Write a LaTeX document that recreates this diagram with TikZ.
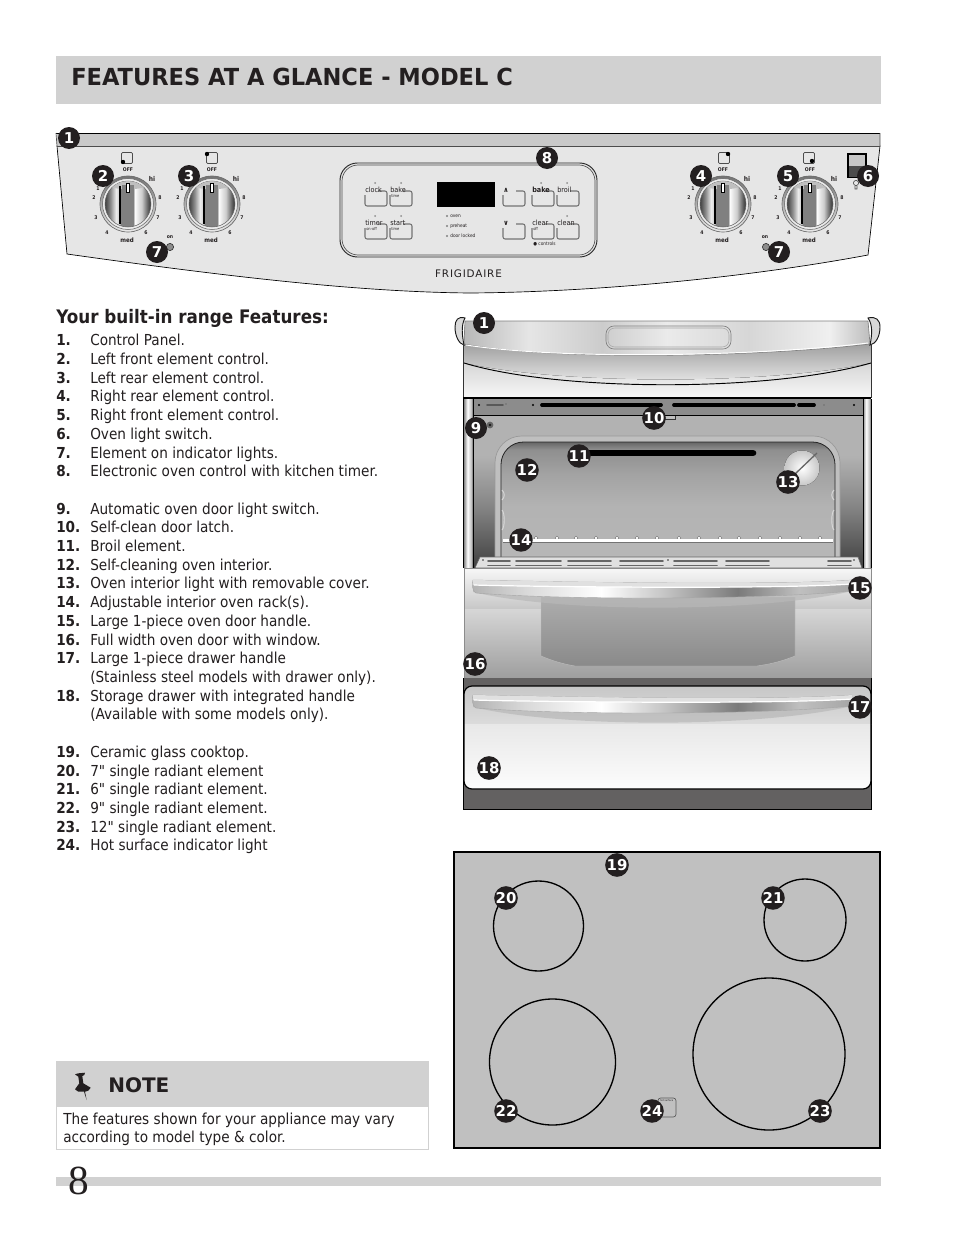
\documentclass[tikz,border=0pt]{standalone}
\usepackage{fontspec}
\setmainfont[FakeStretch=0.9]{DejaVu Sans}
\newfontfamily\plainf{DejaVu Sans}
\newfontfamily\titlef[FakeStretch=0.96]{DejaVu Sans}
\newfontfamily\quotef[FakeStretch=0.9]{DejaVu Sans}
\newfontfamily\pagef{Liberation Serif}
\newcommand{\inch}{{\quotef"}}
\definecolor{band}{HTML}{D1D1D1}
\definecolor{ink}{HTML}{231F20}
\definecolor{panelc}{HTML}{E6E6E6}
\definecolor{stripc}{HTML}{C9C9C9}
\definecolor{drawerc}{HTML}{636161}
\definecolor{cookc}{HTML}{C0C0C0}
\pgfdeclarehorizontalshading{knobsh}{100bp}{color(0bp)=(black!75);color(25bp)=(black!75);color(31bp)=(black!45);color(37bp)=(black!8);color(41bp)=(black!20);color(42bp)=(black!50);color(56bp)=(black!50);color(57bp)=(white);color(65bp)=(black!20);color(72bp)=(black!65);color(75bp)=(black!80);color(100bp)=(black!80)}
\pgfdeclarehorizontalshading{handlesh}{100bp}{color(0bp)=(black!30);color(25bp)=(black!30);color(32bp)=(black!15);color(42bp)=(white);color(50bp)=(black!22);color(60bp)=(black!52);color(68bp)=(black!25);color(75bp)=(black!35);color(100bp)=(black!35)}
\pgfdeclarehorizontalshading{trimsh}{100bp}{color(0bp)=(black!28);color(25bp)=(black!28);color(33bp)=(black!10);color(42bp)=(black!20);color(50bp)=(black!8);color(60bp)=(black!16);color(70bp)=(black!6);color(75bp)=(black!26);color(100bp)=(black!26)}
\pgfdeclarehorizontalshading{columnsh}{100bp}{color(0bp)=(black!45);color(25bp)=(black!45);color(45bp)=(white);color(65bp)=(black!25);color(75bp)=(black!65);color(100bp)=(black!65)}
\pgfdeclareverticalshading{wallsh}{100bp}{color(0bp)=(black!75);color(25bp)=(black!75);color(45bp)=(black!48);color(62bp)=(black!30);color(75bp)=(black!30);color(100bp)=(black!30)}
\pgfdeclareverticalshading{cavsh}{100bp}{color(0bp)=(black!28);color(25bp)=(black!28);color(50bp)=(black!30);color(62bp)=(black!36);color(72bp)=(black!44);color(75bp)=(black!60);color(100bp)=(black!60)}
\tikzset{
  badge/.style={circle,fill=ink,draw=none,text=white,inner sep=0pt,minimum size=16.5pt,font=\plainf\bfseries\fontsize{11.2pt}{11pt}\selectfont},
  lbl/.style={anchor=base west,inner sep=0pt,text=ink,font=\fontsize{11.35pt}{13pt}\selectfont},
  tiny/.style={inner sep=0pt,text=ink,font=\fontsize{3.8pt}{4pt}\selectfont\bfseries},
  btnl/.style={inner sep=0pt,anchor=west,text=ink,font=\fontsize{5.4pt}{5.4pt}\selectfont},
  btnline/.style={draw=black!55,line width=0.8pt,rounded corners=1.6pt},
  hole/.style={line width=1.2pt,black!60,line cap=round},
  burner/.style={draw=black,line width=1pt}
}
\newcommand{\badgeat}[4]{\node[badge] (#1) at (#2,#3) {#4};}
\newcommand{\itm}[3]{\node[lbl] (num#2) at (56,#1) {\textbf{#2}}; \node[lbl] (txt#2) at (90,#1) {#3};}
\newcommand{\knobat}[3]{%
 \begin{scope}[shift={(#2,#3)}]
  \fill[top color=black!55,bottom color=black!8,draw=black!55,line width=0.5pt] (0,0) circle (28);
  \fill[black!8] (0,0) circle (25.5);
  \draw[black!60,line width=0.4pt] (0,0) circle (25.5);
  \path[shading=knobsh,draw=black!60,line width=0.4pt] (0,0) circle (23);
  \fill[black!25] (-16,-16.5) arc[start angle=226,end angle=314,radius=23] -- (16,-16.5) to[bend left=12] cycle;
  \fill[black] (-8.6,-18) rectangle (-7.3,20);
  \fill[black!50] (-6,-19) rectangle (6,21.5);
  \draw[fill=white,draw=black,line width=0.6pt] (-1.7,-21) rectangle (1.7,-12);
  \node[tiny] (#1off) at (0,-34) {OFF};
  \node[tiny,font=\fontsize{5pt}{5pt}\selectfont\bfseries] (#1hi) at (24,-25) {hi};
  \node[tiny] (#1e) at (32,-6) {8};
  \node[tiny] (#1s) at (30,14) {7};
  \node[tiny] (#1f) at (18,29) {6};
  \node[tiny,font=\fontsize{4.6pt}{5pt}\selectfont\bfseries] (#1m) at (-1,36) {med};
  \node[tiny] (#1g) at (-21,29) {4};
  \node[tiny] (#1t) at (-32,14) {3};
  \node[tiny] (#1u) at (-34,-6) {2};
  \node[tiny] (#1l) at (-30,-15) {1};
 \end{scope}}
\newcommand{\sqind}[4]{%
  \draw[black!70,line width=0.5pt,rounded corners=0.8pt] (#1-5.5,#2-5.5) rectangle (#1+5.5,#2+5.5);
  \fill[black] (#1+#3,#2+#4) circle (2.2);}
\newcommand{\btn}[5]{% name x y label sub
  \draw[btnline] (#2+13,#3+1) -- (#2+22,#3+1) -- (#2+22,#3+16) -- (#2,#3+16) -- (#2,#3+5);
  \node[btnl] (#1) at (#2,#3) {#4};
  \node[btnl,font=\fontsize{3pt}{3pt}\selectfont] (#1s) at (#2+1,#3+6.5) {#5};}
\newcommand{\handle}[2]{% top y, right x
  \fill[black!28,opacity=.7] (473,#1+12) .. controls (560,#1+33) and (760,#1+33) .. (#2,#1+11) -- (#2,#1+5) -- (473,#1+5) -- cycle;
  \path[shading=handlesh,draw=black!35,line width=0.3pt] (473,#1) .. controls (480,#1) and (760,#1+7) .. (#2,#1) -- (#2,#1+11) .. controls (760,#1+20) and (560,#1+20) .. (476,#1+13) .. controls (472,#1+12) and (472,#1+3) .. (473,#1) -- cycle;
  \fill[black!12] (473,#1) .. controls (480,#1) and (760,#1+7) .. (#2,#1) -- (#2,#1+4) .. controls (760,#1+10) and (500,#1+6) .. (473,#1+5) -- cycle;
  \draw[white,line width=0.9pt] (474,#1+5) .. controls (500,#1+6) and (760,#1+10) .. (#2,#1+4);
}
\begin{document}
\begin{tikzpicture}[x=0.75pt,y=-0.75pt]
\useasboundingbox (0,0) rectangle (954,1235);
\fill[white] (0,0) rectangle (954,1235);
% title
\fill[band] (56,56) rectangle (881,104);
\node[anchor=base west,inner sep=0pt,text=ink,font=\titlef\bfseries\fontsize{17.6pt}{20pt}\selectfont] (title) at (71,85) {FEATURES AT A GLANCE - MODEL C};
% control panel
\path[fill=panelc,draw=black,line width=0.5pt] (57,146) -- (67,254) .. controls (230,277) and (360,292) .. (470,293) .. controls (600,292) and (750,277) .. (868,255) -- (880,146) -- cycle;
\fill[stripc] (57,133) rectangle (880,146);
\draw[black,line width=0.6pt] (56,133) -- (880,133);
\draw[black!70,line width=0.5pt] (57,146) -- (880,146);
\draw[black!70,line width=0.5pt] (56,133) -- (57,146) (880,133) -- (880,146);
\knobat{ka}{128}{204}\sqind{127}{158}{-4}{4}
\knobat{kb}{212}{204}\sqind{212}{158}{-5}{-4}
\knobat{kc}{723}{204}\sqind{724}{158}{4}{-4}
\knobat{kd}{810}{204}\sqind{809}{158}{3}{3}
% on lights
\fill[black!45,draw=black!80,line width=0.5pt] (170,247) circle (3.6);
\fill[black!45,draw=black!80,line width=0.5pt] (766,247) circle (3.6);
\node[tiny] (onl) at (170,237) {on};
\node[tiny] (onr) at (765,237) {on};
% oven light switch
\draw[black,line width=1pt,fill=black!22] (848,154) rectangle (866,177);
\fill[black!70] (848.5,166) rectangle (865.5,176.5);
\draw[black!70,line width=0.5pt] (856,183) circle (2.6) (855,186) -- (855,189) -- (857,189) -- (857,186);
% control board
\draw[black!85,line width=0.7pt,rounded corners=13pt] (340,163) rectangle (597,257);
\draw[black!70,line width=0.5pt,rounded corners=12pt] (342,165) rectangle (595,255);
\fill[black] (437,182) rectangle (495,207);
\btn{clock}{365}{190}{clock}{}
\btn{bakea}{390}{190}{bake}{time}
\btn{timer}{365}{223}{timer}{on-off}
\btn{start}{390}{223}{start}{time}
\btn{up}{503}{190}{\textbf{∧}}{}
\btn{bakeb}{532}{190}{\textbf{bake}}{}
\btn{broil}{557}{190}{broil}{}
\btn{down}{503}{223}{\textbf{∨}}{}
\btn{clear}{532}{223}{clear}{off}
\btn{clean}{557}{223}{clean}{}
\foreach \px/\py in {375/183,401/183,375/216,401/216,541/183,567/183,567/216}{\fill[black!45] (\px,\py) circle (1);}
\foreach \py in {216,226,236}{\fill[black!50] (447,\py) circle (1.1);}
\node[inner sep=0pt,anchor=west,text=ink,font=\fontsize{3.6pt}{4pt}\selectfont] (oven) at (450,216) {oven};
\node[inner sep=0pt,anchor=west,text=ink,font=\fontsize{3.6pt}{4pt}\selectfont] (preheat) at (450,226) {preheat};
\node[inner sep=0pt,anchor=west,text=ink,font=\fontsize{3.6pt}{4pt}\selectfont] (locked) at (450,236) {door locked};
\node[inner sep=0pt,anchor=west,text=ink,font=\fontsize{3.6pt}{4pt}\selectfont] (ctrl) at (533,244) {● controls};
\node[inner sep=0pt,text=ink,font=\plainf\fontsize{7.8pt}{8pt}\selectfont] (logo) at (468.5,274) {\addfontfeature{LetterSpace=8}FRIGIDAIRE};
% heading and list
\node[lbl,font=\fontsize{13.97pt}{15pt}\selectfont\bfseries] (head) at (56,323) {Your built-in range Features:};
\itm{345}{1.}{Control Panel.}
\itm{364}{2.}{Left front element control.}
\itm{383}{3.}{Left rear element control.}
\itm{401}{4.}{Right rear element control.}
\itm{420}{5.}{Right front element control.}
\itm{439}{6.}{Oven light switch.}
\itm{458}{7.}{Element on indicator lights.}
\itm{476}{8.}{Electronic oven control with kitchen timer.}
\itm{514}{9.}{Automatic oven door light switch.}
\itm{532}{10.}{Self-clean door latch.}
\itm{551}{11.}{Broil element.}
\itm{570}{12.}{Self-cleaning oven interior.}
\itm{588}{13.}{Oven interior light with removable cover.}
\itm{607}{14.}{Adjustable interior oven rack(s).}
\itm{626}{15.}{Large 1-piece oven door handle.}
\itm{645}{16.}{Full width oven door with window.}
\itm{663}{17.}{Large 1-piece drawer handle}
\node[lbl] (txt17b) at (90,682) {(Stainless steel models with drawer only).};
\itm{701}{18.}{Storage drawer with integrated handle}
\node[lbl] (txt18b) at (90,719) {(Available with some models only).};
\itm{757}{19.}{Ceramic glass cooktop.}
\itm{776}{20.}{7\inch{} single radiant element}
\itm{794}{21.}{6\inch{} single radiant element.}
\itm{813}{22.}{9\inch{} single radiant element.}
\itm{832}{23.}{12\inch{} single radiant element.}
\itm{850}{24.}{Hot surface indicator light}
% oven: body
\fill[black!10] (463,343) rectangle (871,398);
\fill[top color=black!38,bottom color=black!8] (463,343) rectangle (871,385);
\fill[top color=black!16,bottom color=black!3] (464,363) .. controls (560,385) and (770,385) .. (871,363) -- (871,398) -- (464,398) -- cycle;
\draw[black,line width=0.7pt] (464,363) .. controls (560,392) and (770,392) .. (871,363);
\path[shading=trimsh,draw=black!50,line width=0.5pt] (465,321) -- (868,321) -- (870,344) .. controls (770,356) and (560,362) .. (464,344) -- cycle;
\draw[white,line width=0.7pt] (466,345) .. controls (570,361) and (770,355) .. (868,343);
\draw[black!50,line width=0.5pt,rounded corners=6pt] (606,326) rectangle (731,349);
\draw[black!35,line width=0.4pt,rounded corners=5pt] (608,328) rectangle (729,347);
\draw[black!90,line width=0.7pt,fill=black!15] (465,318) .. controls (458,316) and (455,320) .. (455,327) .. controls (455,336) and (459,344) .. (464,345) .. controls (462,335) and (461,325) .. (465,318) -- cycle;
\draw[black!90,line width=0.7pt,fill=black!15] (868,318) .. controls (876,316) and (880,320) .. (880,327) .. controls (880,336) and (876,344) .. (870,345) .. controls (872,335) and (873,325) .. (868,318) -- cycle;
\draw[black!80,line width=0.6pt] (463.5,344) -- (463.5,398) (871,344) -- (871,398);
% oven cavity surround
\path[shading=wallsh] (473,415) rectangle (863,568);
\fill[black!45] (473,399) rectangle (863,415.5);
\draw[black,line width=0.6pt] (473,415.5) -- (863,415.5);
\path[shading=columnsh] (464,399) rectangle (473,568);
\path[shading=columnsh] (863,399) rectangle (871,568);
\draw[black,line width=1.6pt] (463,398) -- (871,398);
\draw[black,line width=0.6pt] (473,399) -- (473,568) (863,399) -- (863,568) (463.5,399) -- (463.5,568) (871,399) -- (871,568);
\draw[black!65,line width=1.2pt,line cap=round] (487,405) -- (503,405);
\draw[black,line width=2.8pt,line cap=round] (542,405) -- (661,405);
\draw[black,line width=2.8pt,line cap=round] (674,405) -- (794,405);
\draw[black,line width=2.8pt,line cap=round] (799,405) -- (814,405);
\foreach \px in {479,533,854}{\fill[black] (\px,405) circle (1.2);}
\fill[black!70] (506,404) circle (0.7);
\fill[black!70] (824,405) circle (0.7);
\fill[black!25] (664,416) rectangle (675,419);
\draw[black!80,line width=0.4pt] (664,419) -- (675,419) -- (675,416);
\fill[black!60] (490,425) circle (3.4);
\fill[black!90] (490,425) circle (1.3);
% cavity
\path[fill=black!25,draw=black!40,line width=0.5pt,rounded corners=20pt] (495,568) -- (495,436) -- (840,436) -- (840,568);
\path[shading=cavsh,draw=black!85,line width=0.6pt,rounded corners=17pt] (501,568) -- (501,442) -- (835,442) -- (835,568);
\foreach \py/\pz in {490/500,510/530}{\draw[black!15,line width=0.7pt] (502,\py) .. controls (505,\py+3) and (505,\pz-3) .. (502,\pz) (834,\py) .. controls (831,\py+3) and (831,\pz-3) .. (834,\pz);}
\draw[black,line width=5pt,line cap=round] (582,453) -- (753,453);
\fill[inner color=white,outer color=black!22] (802,468) circle (17.5);
\draw[black!60,line width=1pt] (795,474) -- (817,453);
\foreach \px in {536,557,576,596,617,637,657,679,699,720,739,760,780,800,820}{\fill[white,draw=black!60,line width=0.3pt] (\px,538) circle (1.8);}
\draw[black!55,line width=3.2pt] (503,541) -- (833,541);
\draw[white,line width=1.8pt] (503,540.5) -- (833,540.5);
\fill[black!12,draw=black!60,line width=0.4pt] (475,568) -- (480,557) -- (858,557) -- (862,568) -- cycle;
\foreach \pa/\pb in {488/510,516/561,568/611,620/663,674/717,726/769,828/851}{\draw[hole] (\pa,561) -- (\pb,561) (\pa,565.5) -- (\pb,565.5);}
\foreach \px in {483,668,854}{\fill[black!80] (\px,560) circle (0.8);}
% door
\fill[top color=black!3,bottom color=black!22] (464,568) rectangle (871,609);
\fill[top color=black!16,bottom color=black!38] (464,609) rectangle (871,678);
\draw[black!45,line width=0.5pt] (464,568) -- (871,568) (464,568) -- (464,678) (871,568) -- (871,678);
\path[top color=black!32,bottom color=black!46,draw=black!25,line width=0.3pt] (541,597) -- (795,597) -- (795,656) .. controls (780,662) and (770,664) .. (757,666) -- (575,666) .. controls (563,664) and (553,661) .. (541,656) -- cycle;
\handle{580}{852}
% drawer
\fill[drawerc] (463,678) rectangle (871.5,809);
\draw[black,line width=0.7pt] (463,678) -- (463,809) -- (871.5,809) -- (871.5,678);
\begin{scope}
  \clip[rounded corners=6pt] (464,686) rectangle (871,789);
  \fill[top color=black!22,bottom color=black!14] (464,686) rectangle (871,724);
  \fill[top color=black!9,bottom color=black!1] (464,724) rectangle (871,789);
\end{scope}
\draw[black,line width=0.9pt,rounded corners=6pt] (464,686) rectangle (871,789);
\handle{695}{852}
% cooktop
\draw[fill=cookc,draw=black,line width=1.1pt] (454,852) rectangle (880,1148);
\draw[burner] (538.5,926) circle (45);
\draw[burner] (805,920) circle (41);
\draw[burner] (552.5,1062) circle (63);
\draw[burner] (769,1054) circle (76);
\draw[black!65,line width=0.5pt,rounded corners=2pt] (658,1098) rectangle (676,1117);
\node[inner sep=0pt,anchor=west,text=ink,font=\fontsize{1.9pt}{2pt}\selectfont] (hotlabel) at (660,1101) {hot surface};
% badges
\badgeat{bp1}{69}{138}{1}
\badgeat{bp2}{103}{176}{2}
\badgeat{bp3}{189}{176}{3}
\badgeat{bp4}{701}{176}{4}
\badgeat{bp5}{788}{176}{5}
\badgeat{bp6}{868}{176}{6}
\badgeat{bp7a}{157}{252}{7}
\badgeat{bp7b}{779}{252}{7}
\badgeat{bp8}{547}{158}{8}
\badgeat{bo1}{484}{323}{1}
\badgeat{bo9}{476}{428}{9}
\badgeat{bo10}{654}{418}{10}
\badgeat{bo11}{579}{456}{11}
\badgeat{bo12}{527}{470}{12}
\badgeat{bo13}{788}{482}{13}
\badgeat{bo14}{521}{540}{14}
\badgeat{bo15}{860}{588}{15}
\badgeat{bo16}{475}{664}{16}
\badgeat{bo17}{860}{707}{17}
\badgeat{bo18}{489}{768}{18}
\badgeat{bc19}{617}{865}{19}
\badgeat{bc20}{506}{898}{20}
\badgeat{bc21}{773}{898}{21}
\badgeat{bc22}{506}{1111}{22}
\badgeat{bc23}{820}{1111}{23}
\badgeat{bc24}{652}{1111}{24}
% note
\fill[band] (56,1061) rectangle (429,1107);
\draw[band,line width=0.8pt] (56.5,1106) rectangle (428.5,1149.5);
\fill[ink] (75,1074.3) -- (78.3,1073.3) -- (85,1072.7) -- (84.3,1075) -- (82.3,1076) -- (83.3,1083.3) -- (90.7,1087.7) -- (88.3,1090.7) -- (85,1091.7) -- (86.7,1100) -- (84,1091.7) -- (78.3,1091.7) -- (75,1089.3) -- (79.3,1083.3) -- (78.3,1076.7) -- cycle;
\node[lbl,font=\plainf\bfseries\fontsize{15pt}{17pt}\selectfont] (note) at (108,1092) {NOTE};
\node[lbl,font=\fontsize{11.37pt}{13pt}\selectfont] (notea) at (63,1124) {The features shown for your appliance may vary};
\node[lbl,font=\fontsize{11.37pt}{13pt}\selectfont] (noteb) at (63,1142) {according to model type \& color.};
% footer
\fill[band] (56,1177) rectangle (881,1186);
\node[inner sep=0pt,anchor=base west,text=ink,font=\pagef\fontsize{31pt}{33pt}\selectfont] (pagenum) at (68,1194.5) {8};
\end{tikzpicture}
\end{document}
